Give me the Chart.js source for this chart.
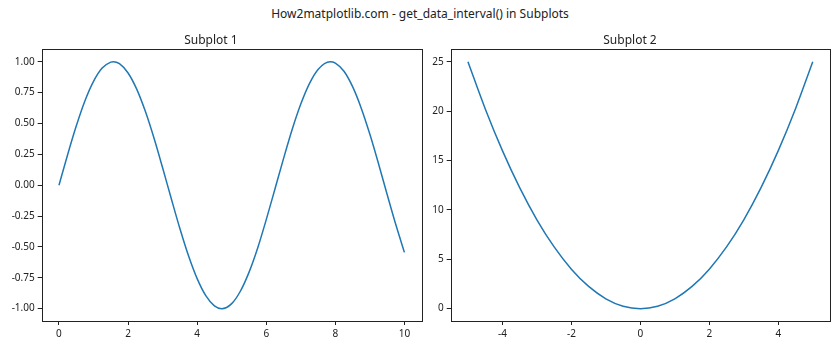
<!DOCTYPE html>
<html>
<head>
<meta charset="utf-8">
<script src="https://cdn.jsdelivr.net/npm/chart.js@4/dist/chart.umd.min.js"></script>
<style>
  body { margin:0; background:#fff; width:840px; height:350px; position:relative; overflow:hidden; font-family:"Noto Sans", sans-serif; }
  #suptitle { position:absolute; left:0; width:840px; top:5px; text-align:center; font-size:12px; color:#222; }
  .box { position:absolute; top:0; height:350px; }
  #b1 { left:0; width:430px; }
  #b2 { left:430px; width:410px; }
</style>
</head>
<body>
<div id="suptitle">How2matplotlib.com - get_data_interval() in Subplots</div>
<div class="box" id="b1"><canvas id="c1"></canvas></div>
<div class="box" id="b2"><canvas id="c2"></canvas></div>
<script>
// subplot 1 : sine wave
const sinX = [0,0.25,0.5,0.75,1,1.25,1.5,1.57,1.75,2,2.25,2.5,2.75,3,3.25,3.5,3.75,4,4.25,4.5,4.71,5,5.25,5.5,5.75,6,6.25,6.5,6.75,7,7.25,7.5,7.85,8,8.25,8.5,8.75,9,9.25,9.5,9.75,10];
const sinY = [0,0.247,0.479,0.682,0.841,0.949,0.997,1.0,0.984,0.909,0.778,0.598,0.382,0.141,-0.108,-0.351,-0.572,-0.757,-0.895,-0.978,-1.0,-0.959,-0.859,-0.706,-0.510,-0.279,-0.033,0.215,0.451,0.657,0.823,0.938,1.0,0.989,0.923,0.798,0.624,0.412,0.174,-0.075,-0.319,-0.544];
const xTicks1 = [0,2,4,6,8,10];
const yTicks1 = [-1,-0.75,-0.5,-0.25,0,0.25,0.5,0.75,1];

// subplot 2 : parabola
const parX = [-5,-4.5,-4,-3.5,-3,-2.5,-2,-1.5,-1,-0.5,0,0.5,1,1.5,2,2.5,3,3.5,4,4.5,5];
const parY = [25,20.25,16,12.25,9,6.25,4,2.25,1,0.25,0,0.25,1,2.25,4,6.25,9,12.25,16,20.25,25];
const xTicks2 = [-4,-2,0,2,4];
const yTicks2 = [0,5,10,15,20,25];

const FONT = "'Noto Sans', sans-serif";
const LINE = '#1f77b4';

const frame = {
  id:'frame',
  afterDraw(chart){
    const a = chart.chartArea, ctx = chart.ctx;
    ctx.save();
    ctx.strokeStyle = '#222';
    ctx.lineWidth = 1;
    ctx.strokeRect(Math.round(a.left)+0.5, Math.round(a.top)+0.5, Math.round(a.right-a.left), Math.round(a.bottom-a.top));
    ctx.restore();
  }
};

function makeChart(id, title, xs, ys, xr, yr, xt, yt, yFmt, yWidth, padRight){
  new Chart(id, {
    type:'line',
    data:{ datasets:[{ data: xs.map((x,i)=>({x:x, y:ys[i]})), borderColor:LINE, borderWidth:1.5, pointRadius:0, cubicInterpolationMode:'monotone', fill:false }]},
    options:{
      responsive:true, maintainAspectRatio:false, animation:false,
      layout:{ padding:{ left:0, right:padRight, top:0, bottom:0 } },
      plugins:{
        legend:{display:false}, tooltip:{enabled:false},
        title:{ display:true, text:title, color:'#222', font:{family:FONT, size:12, weight:'normal'}, padding:{top:33, bottom:2} }
      },
      scales:{
        x:{ type:'linear', min:xr[0], max:xr[1],
            afterBuildTicks(s){ s.ticks = xt.map(v=>({value:v})); },
            afterFit(s){ s.height = 29; },
            border:{display:false},
            grid:{ drawOnChartArea:false, drawTicks:true, tickLength:4, color:'#222' },
            ticks:{ color:'#222', font:{family:FONT, size:10}, padding:3, maxRotation:0, callback:v=>String(v) } },
        y:{ type:'linear', min:yr[0], max:yr[1],
            afterBuildTicks(s){ s.ticks = yt.map(v=>({value:v})); },
            afterFit(s){ s.width = yWidth; },
            border:{display:false},
            grid:{ drawOnChartArea:false, drawTicks:true, tickLength:4, color:'#222' },
            ticks:{ color:'#222', font:{family:FONT, size:10}, padding:3, callback:yFmt } }
      }
    },
    plugins:[frame]
  });
}

makeChart('c1', 'Subplot 1', sinX, sinY, [-0.5,10.5], [-1.1,1.1], xTicks1, yTicks1, v=>v.toFixed(2), 41.7, 8.3);
makeChart('c2', 'Subplot 2', parX, parY, [-5.5,5.5], [-1.25,26.25], xTicks2, yTicks2, v=>String(v), 20.7, 10);
</script>
</body>
</html>
